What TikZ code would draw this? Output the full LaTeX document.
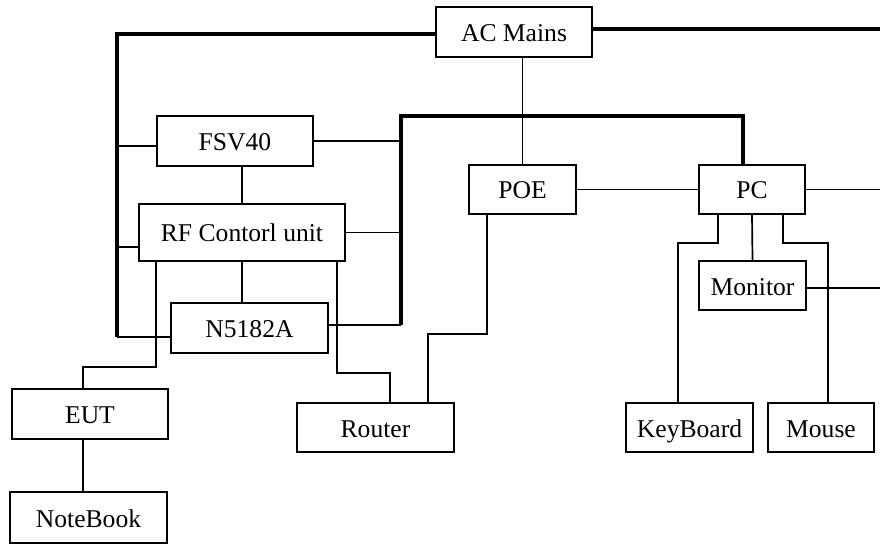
\documentclass[tikz,border=0pt]{standalone}
\usepackage{fontspec}
\setmainfont{Liberation Serif}
\usepackage{tikz}

\begin{document}
\begin{tikzpicture}[x=1pt,y=-1pt,
  caja/.style={draw,line width=1.8pt,inner sep=0pt,text height=19pt,text depth=0pt,
    font=\fontsize{25.6}{30}\selectfont},
  fino/.style={line width=1.7pt},
  grueso/.style={line width=3.8pt}]
\useasboundingbox (0,0) rectangle (880,545);

% Equipos
\node[caja,minimum width=156pt,minimum height=50pt] (ac)     at (514,32)      {AC Mains};
\node[caja,minimum width=156pt,minimum height=50pt] (fsv)    at (235,141)     {FSV40};
\node[caja,minimum width=206pt,minimum height=57pt] (rf)     at (242,232.5)   {RF Contorl unit};
\node[caja,minimum width=157pt,minimum height=50pt] (n51)    at (249.5,328)   {N5182A};
\node[caja,minimum width=107pt,minimum height=49pt] (poe)    at (522.5,189.5) {POE};
\node[caja,minimum width=106pt,minimum height=49pt] (pc)     at (752,189.5)   {PC};
\node[caja,minimum width=107pt,minimum height=49pt] (mon)    at (752.5,285.5) {Monitor};
\node[caja,minimum width=127pt,minimum height=49pt] (kb)     at (689.5,427.5) {KeyBoard};
\node[caja,minimum width=106pt,minimum height=49pt] (mouse)  at (821,427.5)   {Mouse};
\node[caja,minimum width=157pt,minimum height=49pt] (router) at (375.5,427.5) {Router};
\node[caja,minimum width=156pt,minimum height=50pt] (eut)    at (90,414)      {EUT};
\node[caja,minimum width=157pt,minimum height=51pt] (nb)     at (88.5,517.5)  {NoteBook};

% Puntos de la red
\coordinate (bi)    at (117,34);
\coordinate (bib)   at (117,337);
\coordinate (bm)    at (401,116);
\coordinate (bmb)   at (401,325);
\coordinate (bpc)   at (743,116);
\coordinate (borde) at (880,0);

% Alimentacion
\draw[grueso] ([yshift=-2pt]ac.west) -- (bi) -- (bib);
\draw[grueso] ([yshift=3pt]ac.east) -- ([yshift=3pt]ac.east -| borde);
\draw[grueso] (bmb) -- (bm) -- (bpc) -- (bpc |- pc.north);
\draw[fino] (poe.north) -- (poe.north |- ac.south);

% Conexiones a la izquierda
\draw[fino] ([yshift=-5pt]fsv.west) -- ([yshift=-5pt]fsv.west -| bi);
\draw[fino] (fsv.east) -- (fsv.east -| bm);
\draw[fino] (rf.north) -- (rf.north |- fsv.south);
\draw[fino] ([yshift=15pt]rf.south west) -- ([yshift=15pt]rf.south west -| bi);
\draw[fino] (rf.east) -- (rf.east -| bm);
\draw[fino] (rf.south) -- (rf.south |- n51.north);
\draw[fino] (bib) -- (bib -| n51.west);
\draw[fino] (bmb -| n51.east) -- (bmb);
\draw[fino] ([xshift=18pt]rf.south west) -- ++(0,105) -| ([xshift=-7pt]eut.north);
\draw[fino] ([xshift=-9pt]rf.south east) -- ++(0,111) -| ([xshift=14.5pt]router.north);
\draw[fino] ([xshift=-7pt]eut.south) -- ([xshift=-7pt]eut.south |- nb.north);

% Conexiones a la derecha
\draw[fino] ([xshift=-35.5pt]poe.south) -- ++(0,119) -| ([xshift=52.5pt]router.north);
\draw[fino] (poe.east) -- (pc.west);
\draw[fino] (pc.east) -- (pc.east -| borde);
\draw[fino] ([yshift=-2.5pt]mon.east) -- ([yshift=-2.5pt]mon.east -| borde);
\draw[fino] (pc.south) -- (mon.north);
\draw[fino] ([xshift=-34pt]pc.south) -- ++(0,28) -| ([xshift=-11.5pt]kb.north);
\draw[fino] ([xshift=31pt]pc.south) -- ++(0,28) -| ([xshift=7pt]mouse.north);
\end{tikzpicture}
\end{document}
